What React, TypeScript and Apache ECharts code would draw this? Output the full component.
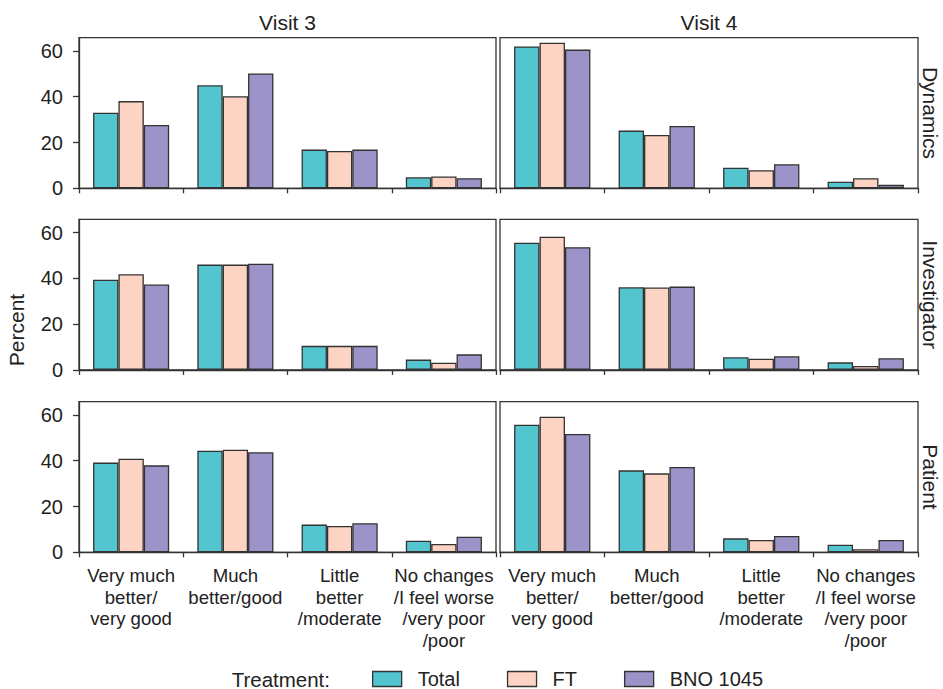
import React, { useEffect, useRef } from "react";
import * as echarts from "echarts";

const categories = [
  "Very much\nbetter/\nvery good",
  "Much\nbetter/good",
  "Little\nbetter\n/moderate",
  "No changes\n/I feel worse\n/very poor\n/poor",
];
const treatments = ["Total", "FT", "BNO 1045"];
const visits = ["Visit 3", "Visit 4"];
const raters = ["Dynamics", "Investigator", "Patient"];
const yTicks = [0, 20, 40, 60];

// Dynamics
const dynV3Total = [33.0, 45.0, 16.9, 4.8];
const dynV3FT = [38.1, 40.2, 16.3, 5.2];
const dynV3BNO = [27.7, 50.2, 16.9, 4.4];
const dynV4Total = [62.0, 25.2, 9.0, 2.9];
const dynV4FT = [63.6, 23.3, 7.9, 4.4];
const dynV4BNO = [60.6, 27.2, 10.5, 1.5];
// Investigator
const invV3Total = [39.4, 46.0, 10.5, 4.5];
const invV3FT = [41.8, 46.0, 10.5, 3.1];
const invV3BNO = [37.3, 46.4, 10.5, 6.8];
const invV4Total = [55.6, 36.1, 5.5, 3.3];
const invV4FT = [58.2, 36.0, 4.9, 1.7];
const invV4BNO = [53.6, 36.4, 6.0, 5.1];
// Patient
const patV3Total = [39.2, 44.4, 12.1, 5.1];
const patV3FT = [40.9, 44.8, 11.5, 3.6];
const patV3BNO = [38.0, 43.7, 12.7, 6.8];
const patV4Total = [55.7, 35.8, 6.1, 3.3];
const patV4FT = [59.2, 34.5, 5.4, 1.3];
const patV4BNO = [51.7, 37.3, 7.1, 5.4];

const panelData = [
  [
    [dynV3Total, dynV3FT, dynV3BNO],
    [dynV4Total, dynV4FT, dynV4BNO],
  ],
  [
    [invV3Total, invV3FT, invV3BNO],
    [invV4Total, invV4FT, invV4BNO],
  ],
  [
    [patV3Total, patV3FT, patV3BNO],
    [patV4Total, patV4FT, patV4BNO],
  ],
];

const colors = ["#53C5CF", "#FDD3C3", "#9C94C9"];
const FONT = "'Liberation Sans', Arial, Helvetica, sans-serif";
const TEXT = "#222";
const LINE = "#333";

export default function App() {
  const ref = useRef<HTMLDivElement>(null);
  useEffect(() => {
    if (!ref.current) return;
    const chart = echarts.init(ref.current, undefined, { renderer: "svg" });
    const colLeft = [79, 500];
    const colWidth = [417, 418];
    const rowTop = [37.7, 219.3, 401.7];
    const rowHeight = 150.6;
    const grids: any[] = [];
    const xAxes: any[] = [];
    const yAxes: any[] = [];
    const series: any[] = [];
    let idx = 0;
    for (let r = 0; r < raters.length; r++) {
      for (let c = 0; c < visits.length; c++) {
        grids.push({
          left: colLeft[c],
          top: rowTop[r],
          width: colWidth[c],
          height: rowHeight,
          show: true,
          borderColor: LINE,
          borderWidth: 1.3,
          backgroundColor: "transparent",
          containLabel: false,
        });
        xAxes.push({
          type: "category",
          gridIndex: idx,
          data: categories,
          boundaryGap: true,
          axisLine: { show: true, lineStyle: { color: LINE, width: 1.3 } },
          axisTick: { show: true, length: 5, lineStyle: { color: LINE, width: 1.3 } },
          axisLabel: {
            show: r === raters.length - 1,
            interval: 0,
            fontFamily: FONT,
            fontSize: 18.6,
            lineHeight: 21.4,
            color: TEXT,
            margin: 13,
            align: "center",
          },
          splitLine: { show: false },
        });
        yAxes.push({
          type: "value",
          gridIndex: idx,
          min: 0,
          max: 65.8,
          interval: 20,
          axisLine: { show: c === 0, lineStyle: { color: LINE, width: 1.3 } },
          axisTick: { show: c === 0, length: 6, lineStyle: { color: LINE, width: 1.3 } },
          axisLabel: {
            show: c === 0,
            fontFamily: FONT,
            fontSize: 20,
            color: TEXT,
            margin: 16,
            showMaxLabel: false,
            formatter: (v: number) => (yTicks.includes(v) ? String(v) : ""),
          },
          splitLine: { show: false },
        });
        for (let t = 0; t < treatments.length; t++) {
          series.push({
            type: "bar",
            name: treatments[t],
            xAxisIndex: idx,
            yAxisIndex: idx,
            data: panelData[r][c][t],
            barGap: "0%",
            barCategoryGap: "27%",
            itemStyle: { color: colors[t], borderColor: LINE, borderWidth: 1.3 },
            emphasis: { disabled: true },
          });
        }
        idx++;
      }
    }
    const graphics: any[] = [];
    visits.forEach((v, c) => {
      graphics.push({
        type: "text",
        x: colLeft[c] + colWidth[c] / 2,
        y: 22,
        style: {
          text: v,
          fontFamily: FONT,
          fontSize: 21,
          fill: TEXT,
          textAlign: "center",
          textVerticalAlign: "middle",
        },
      });
    });
    raters.forEach((name, r) => {
      graphics.push({
        type: "text",
        x: 930,
        y: rowTop[r] + rowHeight / 2,
        rotation: -Math.PI / 2,
        style: {
          text: name,
          fontFamily: FONT,
          fontSize: 21,
          fill: TEXT,
          textAlign: "center",
          textVerticalAlign: "middle",
        },
      });
    });
    graphics.push({
      type: "text",
      x: 16,
      y: 330,
      rotation: Math.PI / 2,
      style: {
        text: "Percent",
        fontFamily: FONT,
        fontSize: 21,
        fill: TEXT,
        textAlign: "center",
        textVerticalAlign: "middle",
      },
    });
    graphics.push({
      type: "text",
      x: 330,
      y: 679,
      style: {
        text: "Treatment:",
        fontFamily: FONT,
        fontSize: 20.5,
        fill: TEXT,
        textAlign: "right",
        textVerticalAlign: "middle",
      },
    });
    chart.setOption({
      animation: false,
      backgroundColor: "#fff",
      grid: grids,
      xAxis: xAxes,
      yAxis: yAxes,
      series,
      legend: {
        data: treatments,
        left: 372,
        top: 669,
        orient: "horizontal",
        itemWidth: 29,
        itemHeight: 15,
        itemGap: 47,
        icon: "rect",
        selectedMode: false,
        padding: 0,
        itemStyle: { borderColor: LINE, borderWidth: 1.3 },
        textStyle: {
          fontFamily: FONT,
          fontSize: 20,
          color: TEXT,
          padding: [0, 0, 0, 11],
        },
      },
      graphic: graphics,
    });
    return () => chart.dispose();
  }, []);
  return (
    <div
      ref={ref}
      style={{ position: "absolute", left: 0, top: 0, width: 943, height: 689 }}
    />
  );
}
